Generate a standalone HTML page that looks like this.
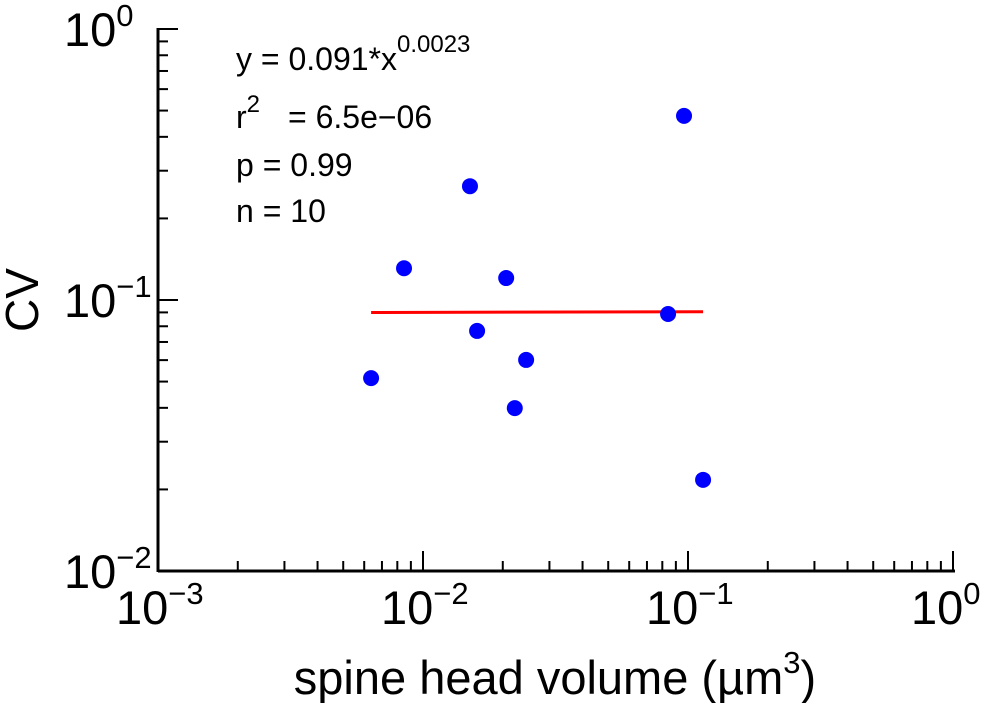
<!DOCTYPE html>
<html><head><meta charset="utf-8"><style>
html,body{margin:0;padding:0;background:#fff;}
svg{display:block;font-family:"Liberation Sans",sans-serif;}
</style></head><body>
<svg id="chart" width="982" height="703"></svg>
<script>
const xVals=[0.00637,0.00848,0.01504,0.0160,0.0206,0.0222,0.0245,0.0841,0.0966,0.114];
const yVals=[0.0515,0.131,0.263,0.0769,0.1205,0.0399,0.0601,0.0888,0.478,0.0217];
const fitA=0.091, fitB=0.0023;
const xTickExps=[-3,-2,-1,0];
const yTickExps=[-2,-1,0];
const NS="http://www.w3.org/2000/svg";
const svg=document.getElementById('chart');
const X0=158,X1=953,Y0=571,Y1=29;
const sx=v=>X0+(Math.log10(v)+3)/3*(X1-X0);
const sy=v=>Y0-(Math.log10(v)+2)/2*(Y0-Y1);
function el(t,a,p){const e=document.createElementNS(NS,t);for(const k in a)e.setAttribute(k,a[k]);(p||svg).appendChild(e);return e;}
const axes=el('g',{stroke:'#000','stroke-width':3});


el('line',{x1:X0,y1:Y0,x2:X1+2,y2:Y0},axes);
el('line',{x1:X0,y1:Y0+1,x2:X0,y2:Y1-1},axes);
const ticks=el('g',{stroke:'#000','stroke-width':2});


for(let d=-3;d<=0;d++){for(let m=1;m<=9;m++){if(d==0&&m>1)break;const v=m*Math.pow(10,d);const x=sx(v);const L=m==1?20:10;if(m==1&&d==-3)continue;el('line',{x1:x,y1:Y0,x2:x,y2:Y0-L},ticks);}}
for(let d=-2;d<=0;d++){for(let m=1;m<=9;m++){if(d==0&&m>1)break;const v=m*Math.pow(10,d);const y=sy(v);const L=m==1?20:10;if(m==1&&d==-2)continue;el('line',{x1:X0,y1:y,x2:X0+L,y2:y},ticks);}}
function powLabel(x,y,exp,name){const t=el('text',{x:x,y:y,'font-size':47,'text-anchor':'start'});t.textContent='10';const s=el('tspan',{dy:-20,'font-size':31},t);s.textContent=exp==0?'0':'\u2212'+Math.abs(exp);}
xTickExps.forEach(e=>powLabel(sx(Math.pow(10,e))-42,624,e,'x-tick-label'));
yTickExps.forEach(e=>powLabel(64,sy(Math.pow(10,e))+17,e,'y-tick-label'));
const xmin=Math.min(...xVals),xmax=Math.max(...xVals);
const fit=el('line',{x1:sx(xmin),y1:sy(fitA*Math.pow(xmin,fitB)),x2:sx(xmax),y2:sy(fitA*Math.pow(xmax,fitB)),stroke:'#ff0000','stroke-width':3});


xVals.forEach((v,i)=>{const c=el('circle',{cx:sx(v),cy:sy(yVals[i]),r:8,fill:'#0000ff'});

});
function txt(x,y,html,name,size,anchor){const t=el('text',{x:x,y:y,'font-size':size||32,'text-anchor':anchor||'start'});t.innerHTML=html;return t;}
txt(236,70,'y = 0.091*x<tspan dy="-18" font-size="24">0.0023</tspan>','fit-equation');
txt(236,128,'r<tspan dy="-16" font-size="24">2</tspan><tspan dy="16" x="288">= 6.5e\u221206</tspan>','r-squared');
txt(236,176,'p = 0.99','p-value');
txt(236,222,'n = 10','n-count');
txt(555,694,'spine head volume (\u00b5m<tspan dy="-21" font-size="31">3</tspan><tspan dy="21">)</tspan>','x-axis-title',47,'middle');
const yt=txt(0,0,'CV','y-axis-title',46,'middle');yt.setAttribute('transform','translate(38,300) rotate(-90)');
</script>
</body></html>
